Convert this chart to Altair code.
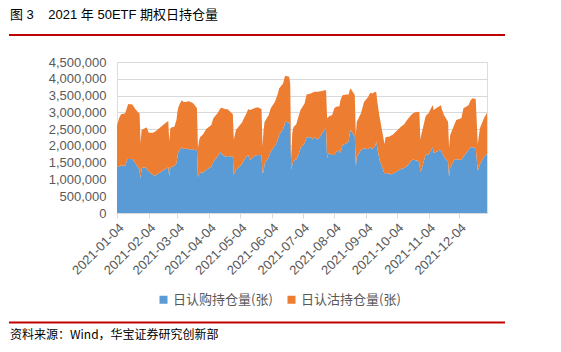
import altair as alt
import pandas as pd

# ---- data ----
dates = [
    "01-04", "01-06", "01-08", "01-12", "01-14", "01-15", "01-19", "01-22", "01-25", "01-26",
    "01-27", "01-28", "02-01", "02-02", "02-04", "02-08", "02-10", "02-18", "02-19", "02-22",
    "02-23", "02-24", "02-25", "02-26", "03-01", "03-03", "03-04", "03-05", "03-08", "03-10",
    "03-12", "03-15", "03-19", "03-22", "03-23", "03-24", "03-25", "03-26", "03-29", "04-01",
    "04-06", "04-08", "04-12", "04-15", "04-16", "04-20", "04-22", "04-26", "04-27", "04-28",
    "04-30", "05-06", "05-07", "05-10", "05-12", "05-14", "05-18", "05-21", "05-25", "05-26",
    "05-27", "05-28", "06-01", "06-03", "06-07", "06-10", "06-11", "06-15", "06-16", "06-17",
    "06-18", "06-21", "06-22", "06-23", "06-24", "06-25", "06-28", "06-30", "07-02", "07-06",
    "07-08", "07-12", "07-14", "07-16", "07-19", "07-22", "07-26", "07-27", "07-28", "07-29",
    "07-30", "08-02", "08-04", "08-06", "08-09", "08-10", "08-12", "08-16", "08-18", "08-19",
    "08-20", "08-23", "08-24", "08-25", "08-26", "08-30", "09-02", "09-06", "09-08", "09-10",
    "09-13", "09-14", "09-15", "09-17", "09-22", "09-23", "09-27", "09-28", "09-30", "10-08",
    "10-11", "10-14", "10-18", "10-20", "10-22", "10-25", "10-26", "10-27", "10-28", "10-29",
    "11-01", "11-02", "11-04", "11-08", "11-09", "11-12", "11-16", "11-17", "11-19", "11-23",
    "11-24", "11-25", "11-29", "12-01", "12-06", "12-08", "12-13", "12-15", "12-17", "12-20",
    "12-22", "12-24", "12-28", "12-31",
]

call_oi = [
    1380000, 1370000, 1420000, 1400000, 1600000, 1610000, 1610000, 1480000, 1340000, 1250000,
    1040000, 1340000, 1360000, 1310000, 1240000, 1140000, 1110000, 1270000, 1300000, 1340000,
    1360000, 1090000, 1340000, 1370000, 1400000, 1480000, 1680000, 1830000, 1960000, 1900000,
    1920000, 1900000, 1900000, 1860000, 1880000, 1070000, 1180000, 1210000, 1210000, 1290000,
    1380000, 1530000, 1680000, 1830000, 1760000, 1680000, 1700000, 1680000, 1680000, 1140000,
    1290000, 1450000, 1530000, 1680000, 1730000, 1580000, 1700000, 1730000, 1720000, 1190000,
    1220000, 1480000, 1660000, 1830000, 2000000, 2180000, 2320000, 2500000, 2570000, 2720000,
    2720000, 2690000, 2620000, 1290000, 1430000, 1550000, 1600000, 1730000, 1930000, 2080000,
    2260000, 2260000, 2200000, 2260000, 2180000, 2320000, 2520000, 2450000, 1630000, 1760000,
    1780000, 1730000, 1730000, 1830000, 1860000, 1780000, 2030000, 2080000, 2130000, 2370000,
    2470000, 2320000, 2300000, 1380000, 1680000, 1880000, 1930000, 1900000, 1960000, 1900000,
    2000000, 2130000, 1930000, 1600000, 1170000, 1190000, 1170000, 1150000, 1170000, 1310000,
    1340000, 1400000, 1550000, 1600000, 1570000, 1550000, 1500000, 1220000, 1300000, 1390000,
    1730000, 1760000, 1730000, 1960000, 1780000, 1830000, 1880000, 1800000, 1680000, 1530000,
    1070000, 1340000, 1580000, 1600000, 1580000, 1680000, 1880000, 1960000, 1960000, 1940000,
    1250000, 1440000, 1680000, 1760000,
]

put_oi = [
    1220000, 1450000, 1520000, 1570000, 1570000, 1640000, 1620000, 1610000, 1650000, 1720000,
    1040000, 1130000, 1180000, 1240000, 1150000, 1250000, 1310000, 1350000, 1350000, 1380000,
    1390000, 1040000, 1180000, 1180000, 1170000, 1290000, 1340000, 1340000, 1400000, 1410000,
    1390000, 1430000, 1380000, 1310000, 1240000, 860000, 970000, 1050000, 1140000, 1210000,
    1240000, 1290000, 1290000, 1290000, 1380000, 1410000, 1390000, 1290000, 1270000, 1040000,
    1180000, 1250000, 1240000, 1270000, 1360000, 1490000, 1420000, 1420000, 1380000, 790000,
    1250000, 1240000, 1260000, 1290000, 1310000, 1380000, 1380000, 1360000, 1410000, 1360000,
    1360000, 1370000, 1240000, 330000, 940000, 1000000, 1050000, 1140000, 1140000, 1180000,
    1270000, 1300000, 1390000, 1350000, 1430000, 1310000, 1140000, 1210000, 1190000, 1090000,
    1100000, 1190000, 1390000, 1340000, 1320000, 1580000, 1480000, 1450000, 1400000, 1290000,
    1240000, 1240000, 1220000, 940000, 1040000, 1090000, 1380000, 1560000, 1620000, 1660000,
    1610000, 1460000, 1380000, 1300000, 880000, 1070000, 1110000, 1150000, 1160000, 1260000,
    1300000, 1370000, 1370000, 1370000, 1430000, 1470000, 1500000, 960000, 1050000, 1080000,
    1140000, 1160000, 1240000, 1260000, 1290000, 1310000, 1330000, 1290000, 1240000, 1190000,
    860000, 980000, 1040000, 1170000, 1240000, 1440000, 1330000, 1400000, 1460000, 1460000,
    800000, 1080000, 1140000, 1230000,
]

series_names = ["日认购持仓量(张)", "日认沽持仓量(张)"]
series_colors = ["#5B9BD5", "#ED7D31"]
tick_dates = ["2021-%02d-04" % m for m in range(1, 13)]
y_ticks = [0, 500000, 1000000, 1500000, 2000000, 2500000, 3000000, 3500000, 4000000, 4500000]

NB = "\u00a0"
title_text = "图" + NB + "3" + NB * 4 + "2021" + NB + "年" + NB + "50ETF" + NB + "期权日持仓量"
source_text = "资料来源：Wind，华宝证券研究创新部"

# ---- build table ----
rows = []
for d, c, p in zip(dates, call_oi, put_oi):
    rows.append({"date": "2021-" + d, "series": series_names[0], "value": c, "ord": 0})
    rows.append({"date": "2021-" + d, "series": series_names[1], "value": p, "ord": 1})
df = pd.DataFrame(rows)


def ts(s):
    return int(pd.Timestamp(s, tz="UTC").timestamp() * 1000)


LAT = "Liberation Sans, Noto Sans CJK SC"
CJK = "Noto Sans CJK SC, Liberation Sans"

area = alt.Chart(df).mark_area(interpolate="linear", opacity=1).encode(
    x=alt.X(
        "date:T",
        scale=alt.Scale(domain=[ts("2021-01-04"), ts("2021-12-31")]),
        axis=alt.Axis(
            title=None,
            values=[ts(t) for t in tick_dates],
            labelExpr="utcFormat(datum.value, '%Y-%m-%d')",
            labelAngle=-45,
            labelFontSize=13,
            labelFont=LAT,
            labelColor="#595959",
            labelPadding=3,
            grid=False,
            domainColor="#D9D9D9",
            tickColor="#D9D9D9",
            tickSize=5,
            labelOverlap=False,
        ),
    ),
    y=alt.Y(
        "value:Q",
        stack="zero",
        scale=alt.Scale(domain=[0, 4500000], nice=False),
        axis=alt.Axis(
            title=None,
            values=y_ticks,
            format=",d",
            labelFontSize=13,
            labelFont=LAT,
            labelColor="#595959",
            labelPadding=11,
            domain=False,
            ticks=False,
            gridColor="#D9D9D9",
            gridWidth=1,
        ),
    ),
    color=alt.Color(
        "series:N",
        scale=alt.Scale(domain=series_names, range=series_colors),
        legend=alt.Legend(
            title=None,
            orient="none",
            legendX=40,
            legendY=231,
            direction="horizontal",
            symbolType="square",
            symbolSize=64,
            symbolStrokeWidth=0,
            labelFontSize=13,
            labelFont=CJK,
            labelColor="#595959",
            labelOffset=3,
            columnPadding=12,
        ),
    ),
    order=alt.Order("ord:Q", sort="ascending"),
)

ann = pd.DataFrame({"k": [0]})

title = alt.Chart(ann).mark_text(
    text=title_text, align="left", baseline="middle", fontSize=13, font=LAT, color="#000000"
).encode(x=alt.value(-107), y=alt.value(-47.5))

top_rule = alt.Chart(ann).mark_rule(color="#C00000", strokeWidth=2).encode(
    x=alt.value(-108), x2=alt.value(388), y=alt.value(-27)
)
bottom_rule = alt.Chart(ann).mark_rule(color="#C00000", strokeWidth=2).encode(
    x=alt.value(-108), x2=alt.value(388), y=alt.value(260.5)
)

source = alt.Chart(ann).mark_text(
    text=source_text, align="left", baseline="middle", fontSize=12, font=CJK, color="#000000"
).encode(x=alt.value(-107), y=alt.value(273))

chart = alt.layer(area, title, top_rule, bottom_rule, source).properties(
    width=370,
    height=151,
    autosize=alt.AutoSizeParams(type="none"),
    padding={"left": 117, "top": 62, "right": 74, "bottom": 139},
).configure_view(stroke=None).configure(background="white")

chart.save("out.html", embed_options={"renderer": "svg", "actions": False})
